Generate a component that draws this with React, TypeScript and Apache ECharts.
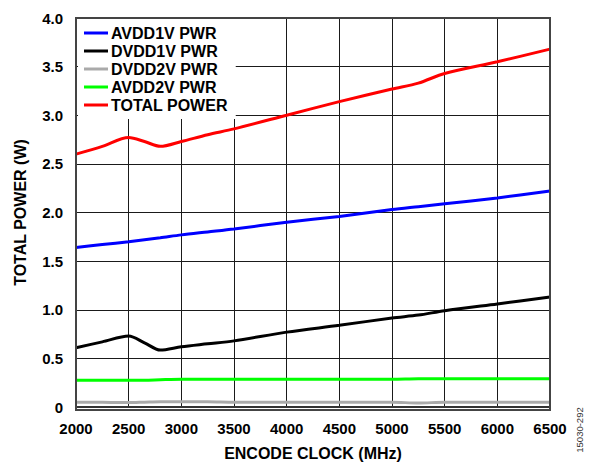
import React, { useEffect, useRef } from "react";
import * as echarts from "echarts";

const clockMHz = [2000, 2250, 2500, 2650, 2800, 3000, 3250, 3500, 4000, 4500, 5000, 5250, 5500, 6000, 6500];
const avdd1v = [1.64, 1.67, 1.70, 1.72, 1.74, 1.77, 1.80, 1.83, 1.90, 1.96, 2.03, 2.06, 2.09, 2.15, 2.22];
const dvdd1v = [0.61, 0.67, 0.73, 0.66, 0.585, 0.62, 0.65, 0.68, 0.77, 0.84, 0.915, 0.945, 0.99, 1.06, 1.13];
const dvdd2v = [0.05, 0.05, 0.045, 0.05, 0.055, 0.055, 0.055, 0.05, 0.05, 0.05, 0.05, 0.04, 0.05, 0.05, 0.05];
const avdd2v = [0.275, 0.275, 0.275, 0.275, 0.28, 0.285, 0.285, 0.285, 0.285, 0.285, 0.285, 0.29, 0.29, 0.29, 0.29];
const totalPower = [2.60, 2.68, 2.77, 2.73, 2.68, 2.73, 2.80, 2.86, 3.00, 3.14, 3.27, 3.33, 3.43, 3.55, 3.68];

const seriesNames = ["AVDD1V PWR", "DVDD1V PWR", "DVDD2V PWR", "AVDD2V PWR", "TOTAL POWER"];
const seriesValues = [avdd1v, dvdd1v, dvdd2v, avdd2v, totalPower];
const seriesColors = ["#0000ff", "#000000", "#aaaaaa", "#00ff00", "#ff0000"];

const FONT = "'Liberation Sans', Arial, Helvetica, sans-serif";

export default function App() {
  const ref = useRef<HTMLDivElement>(null);
  useEffect(() => {
    if (!ref.current) return;
    document.body.style.margin = "0";
    const chart = echarts.init(ref.current, null, { renderer: "svg" });
    chart.setOption({
      animation: false,
      backgroundColor: "#ffffff",
      textStyle: { fontFamily: FONT },
      grid: { left: 76, top: 18, right: 48, bottom: 56, containLabel: false, show: false },
      legend: {
        left: 78,
        top: 19,
        orient: "vertical",
        padding: [5, 8, 5, 6],
        itemWidth: 24,
        itemHeight: 3,
        itemGap: 0,
        icon: "rect",
        backgroundColor: "#ffffff",
        data: seriesNames,
        textStyle: {
          fontFamily: FONT,
          fontWeight: "bold",
          fontSize: 16,
          lineHeight: 18,
          color: "#000",
          padding: [0, 0, 0, -2],
        },
      },
      xAxis: {
        type: "value",
        min: 2000,
        max: 6500,
        interval: 500,
        name: "ENCODE CLOCK (MHz)",
        nameLocation: "middle",
        nameGap: 38,
        nameTextStyle: { fontFamily: FONT, fontWeight: "bold", fontSize: 16, color: "#000" },
        axisLine: { show: true, onZero: false, lineStyle: { color: "#333", width: 2 } },
        axisTick: { show: false },
        axisLabel: {
          fontFamily: FONT,
          fontWeight: "bold",
          fontSize: 15,
          color: "#000",
          margin: 14,
          formatter: (v: number) => String(v),
        },
        splitLine: { show: true, lineStyle: { color: "#1a1a1a", width: 1 } },
      },
      yAxis: {
        type: "value",
        min: 0,
        max: 4,
        interval: 0.5,
        name: "TOTAL POWER (W)",
        nameLocation: "middle",
        nameGap: 48,
        nameTextStyle: { fontFamily: FONT, fontWeight: "bold", fontSize: 16, color: "#000" },
        axisLine: { show: true, lineStyle: { color: "#333", width: 2 } },
        axisTick: { show: false },
        axisLabel: {
          fontFamily: FONT,
          fontWeight: "bold",
          fontSize: 15,
          color: "#000",
          margin: 13,
          formatter: (v: number) => (v === 0 ? "0" : v.toFixed(1)),
        },
        splitLine: { show: true, lineStyle: { color: "#1a1a1a", width: 1 } },
      },
      graphic: [
        {
          type: "rect",
          shape: { x: 76, y: 18, width: 474, height: 392 },
          style: { fill: "none", stroke: "#444", lineWidth: 2 },
          z: 100,
          silent: true,
        },
        {
          type: "text",
          x: 579,
          y: 430,
          rotation: Math.PI / 2,
          style: {
            text: "15030-292",
            fontFamily: FONT,
            fontSize: 9.5,
            fill: "#333",
            align: "center",
            verticalAlign: "middle",
          },
        },
      ],
      series: seriesNames.map((name, i) => ({
        name,
        type: "line",
        data: clockMHz.map((x, j) => [x, seriesValues[i][j]]),
        symbol: "none",
        smooth: 0.3,
        z: 5,
        lineStyle: { color: seriesColors[i], width: 3 },
        itemStyle: { color: seriesColors[i] },
      })),
    });
    return () => chart.dispose();
  }, []);
  return (
    <div
      ref={ref}
      style={{ position: "absolute", left: 0, top: 0, width: 598, height: 466 }}
    />
  );
}
